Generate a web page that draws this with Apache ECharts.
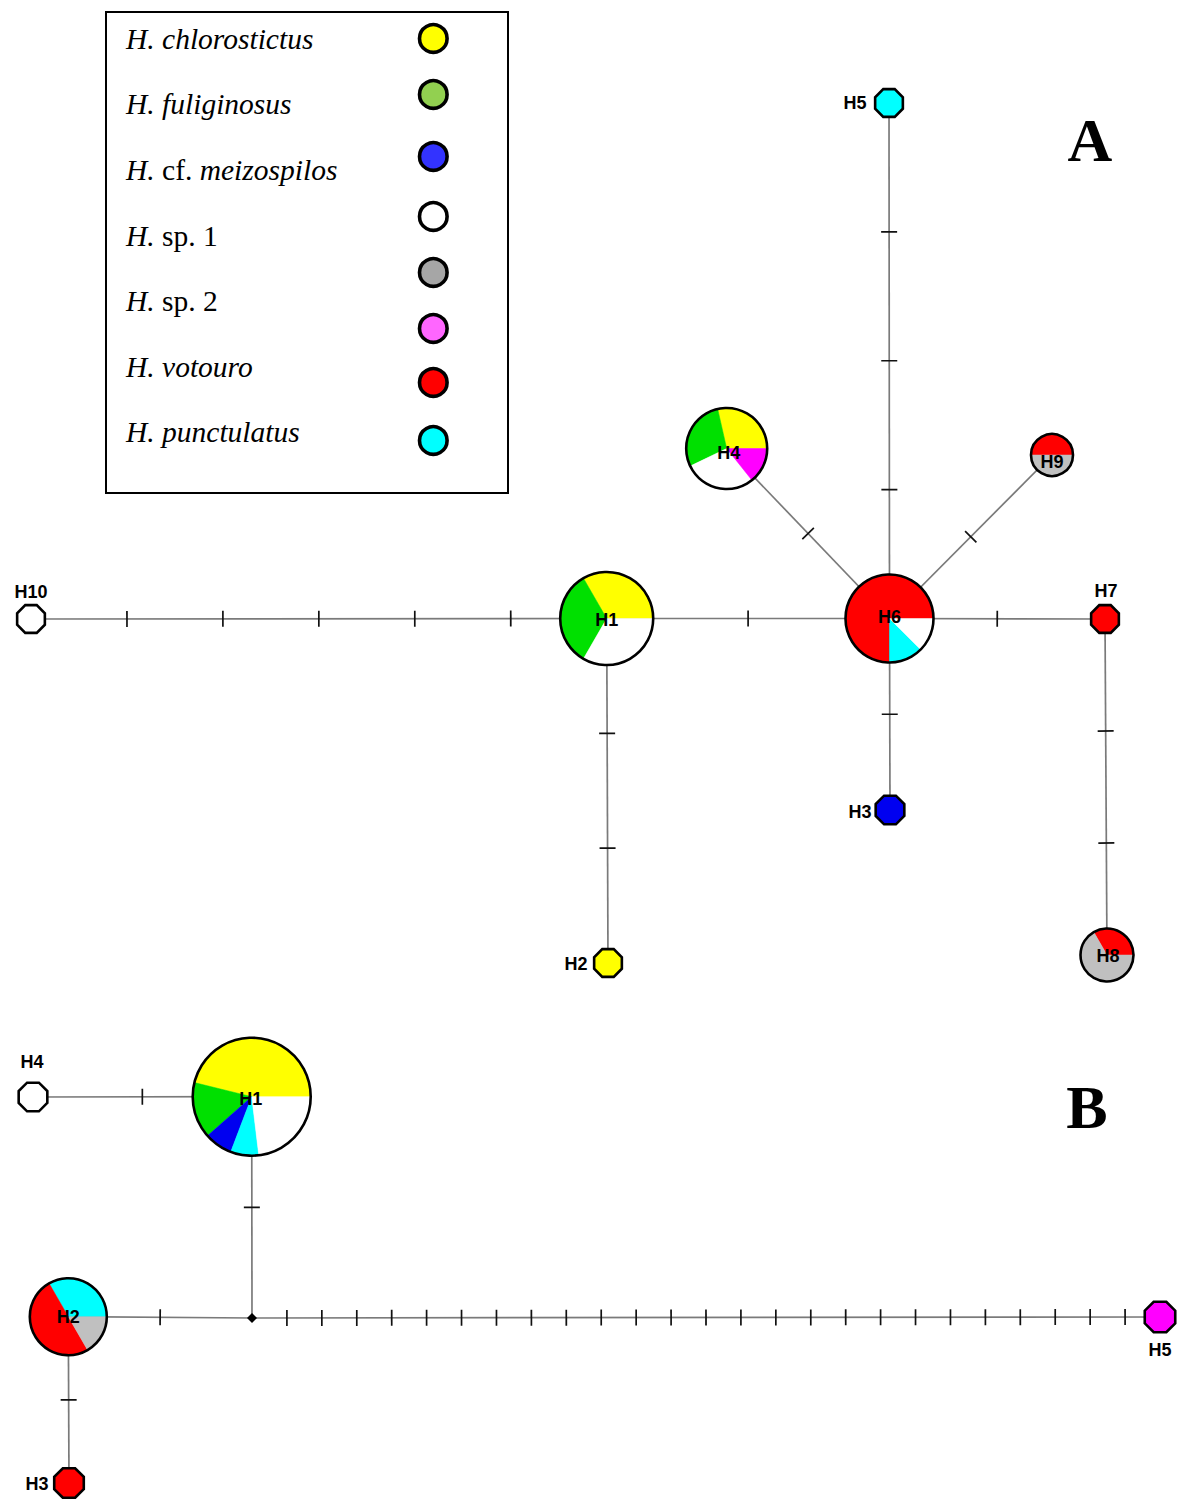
<!DOCTYPE html>
<html><head><meta charset="utf-8">
<script src="https://cdn.jsdelivr.net/npm/echarts@6/dist/echarts.min.js"></script>
<style>html,body{margin:0;padding:0;background:#fff}#c{width:1183px;height:1499px}</style>
</head><body><div id="c"></div>
<script>
// ---------- Legend ----------
const legendLabels = [
  '{i|H. chlorostictus}',
  '{i|H. fuliginosus}',
  '{i|H. }{n|cf. }{i|meizospilos}',
  '{i|H. }{n|sp. 1}',
  '{i|H. }{n|sp. 2}',
  '{i|H. votouro}',
  '{i|H. punctulatus}'
];
const legendSwatches = ['yellow','green','blue','white','gray','magenta','red','cyan'];

// ---------- Network A ----------
const hapNamesA = ['H1','H2','H3','H4','H5','H6','H7','H8','H9','H10'];
const hapCompA = [
  [['yellow',1],['green',1],['white',1]],
  [['yellow',1]],
  [['blue',1]],
  [['yellow',2],['green',2],['white',2],['magenta',1]],
  [['cyan',1]],
  [['red',6],['cyan',1],['white',1]],
  [['red',1]],
  [['red',1],['gray',2]],
  [['red',1],['gray',1]],
  [['white',1]]
];
const edgesA = [
  ['H10','H1',6], ['H1','H6',2], ['H6','H7',2], ['H6','H5',4], ['H6','H3',2],
  ['H1','H2',3], ['H7','H8',3], ['H6','H4',2], ['H6','H9',2]
];

// ---------- Network B ----------
const hapNamesB = ['H1','H2','H3','H4','H5','mv'];
const hapCompB = [
  [['yellow',6],['green',2],['blue',1],['cyan',1],['white',3]],
  [['cyan',2],['red',3],['gray',1]],
  [['red',1]],
  [['white',1]],
  [['magenta',1]],
  []
];
const edgesB = [
  ['H4','H1',2], ['H1','mv',2], ['H2','mv',2], ['H2','H3',2], ['mv','H5',26]
];

// ---------- Layout (positions / sizes / styles) ----------
const layoutAX = [606.7, 608, 890, 726.7, 889, 889.5, 1105, 1107, 1052, 31];
const layoutAY = [618.5, 963, 810, 448.5, 103, 618.5, 619, 955, 455, 619];
const shapeA = ['pie','oct','oct','pie','oct','pie','oct','pie','pie','oct'];
const radiusA = [46.5, 15, 15.5, 40.5, 15, 44, 15, 26.5, 21, 15];
const labelOffA = [[0,1],[-32,1],[-30,2],[2,4],[-34,0],[0,-2],[1,-28],[1,1],[0,7],[0,-27]];

const layoutBX = [251.7, 68.3, 69, 33, 1160, 252];
const layoutBY = [1096.7, 1316.7, 1483, 1097, 1317, 1318];
const shapeB = ['pie','pie','oct','oct','oct','mv'];
const radiusB = [59, 38.5, 16, 15.5, 16.5, 5];
const labelOffB = [[-1,2],[0,0],[-32,1],[-1,-35],[0,33],[0,0]];

const netColors = {yellow:'#ffff00', green:'#00e000', blue:'#0000f0', white:'#ffffff',
  gray:'#c0c0c0', magenta:'#ff00ff', red:'#ff0000', cyan:'#00ffff'};
const legendColors = {yellow:'#ffff00', green:'#92d050', blue:'#3333ff', white:'#ffffff',
  gray:'#a6a6a6', magenta:'#ff66ff', red:'#ff0000', cyan:'#00ffff'};

const chart = echarts.init(document.getElementById('c'), null, {renderer:'svg'});

function edgeSeries(edges, names, xs, ys) {
  const data = edges.map(e => {
    const a = names.indexOf(e[0]), b = names.indexOf(e[1]);
    return [xs[a], ys[a], xs[b], ys[b], e[2]];
  });
  return {
    type:'custom', coordinateSystem:'cartesian2d', z:1, silent:true,
    data, encode:{x:[0,2], y:[1,3]},
    renderItem: (params, api) => {
      const p1 = api.coord([api.value(0), api.value(1)]);
      const p2 = api.coord([api.value(2), api.value(3)]);
      const steps = api.value(4);
      const dx = p2[0]-p1[0], dy = p2[1]-p1[1];
      const len = Math.sqrt(dx*dx+dy*dy);
      const nx = -dy/len, ny = dx/len;
      const children = [{type:'line', shape:{x1:p1[0],y1:p1[1],x2:p2[0],y2:p2[1]},
        style:{stroke:'#7a7a7a', lineWidth:1.7}}];
      const h = 8;
      for (let k=1;k<steps;k++){
        const t = k/steps;
        const cx = p1[0]+dx*t, cy = p1[1]+dy*t;
        children.push({type:'line', shape:{x1:cx-nx*h,y1:cy-ny*h,x2:cx+nx*h,y2:cy+ny*h},
          style:{stroke:'#111', lineWidth:1.7}});
      }
      return {type:'group', children};
    }
  };
}

function nodeSeries(names, comps, xs, ys, shapes, radii, offs) {
  return {
    type:'custom', coordinateSystem:'cartesian2d', z:3, silent:true,
    data: names.map((n,i)=>[xs[i], ys[i], i]),
    renderItem: (params, api) => {
      const i = api.value(2);
      const c = api.coord([api.value(0), api.value(1)]);
      const r = api.size([radii[i], 0])[0];
      const children = [];
      if (shapes[i] === 'mv') {
        children.push({type:'polygon', shape:{points:[[c[0],c[1]-r],[c[0]+r,c[1]],[c[0],c[1]+r],[c[0]-r,c[1]]]},
          style:{fill:'#000'}});
        return {type:'group', children};
      }
      if (shapes[i] === 'oct') {
        const pts = [];
        for (let k=0;k<8;k++){ const a = Math.PI/8 + k*Math.PI/4; pts.push([c[0]+r*Math.cos(a), c[1]+r*Math.sin(a)]); }
        children.push({type:'polygon', shape:{points:pts},
          style:{fill:netColors[comps[i][0][0]], stroke:'#000', lineWidth:2.6}});
      } else {
        const total = comps[i].reduce((s,p)=>s+p[1],0);
        let acc = 0;
        comps[i].forEach(p => {
          const a0 = acc/total*Math.PI*2; acc += p[1];
          const a1 = acc/total*Math.PI*2;
          children.push({type:'sector', shape:{cx:c[0], cy:c[1], r:r, r0:0, startAngle:-a0, endAngle:-a1, clockwise:false},
            style:{fill:netColors[p[0]], stroke:netColors[p[0]], lineWidth:0.5}});
        });
        children.push({type:'circle', shape:{cx:c[0], cy:c[1], r:r}, style:{fill:null, stroke:'#000', lineWidth:2.6}});
      }
      children.push({type:'text', style:{text:names[i], x:c[0]+offs[i][0], y:c[1]+offs[i][1],
        fill:'#000', font:'bold 18px "Liberation Sans", Arial, sans-serif', textAlign:'center', textVerticalAlign:'middle'}});
      return {type:'group', children};
    }
  };
}

// legend graphic
const legendGraphic = [
  {type:'rect', shape:{x:106, y:12, width:402, height:481}, style:{fill:'#fff', stroke:'#000', lineWidth:2}, z:10}
];
const legendRowBase = 48.3;
const serif = '"Liberation Serif","Times New Roman",serif';
legendLabels.forEach((t,k)=>{
  legendGraphic.push({type:'text', left:126, top:legendRowBase + k*65.6 - 24.5, z:11,
    style:{text:t, rich:{
      i:{fontFamily:serif, fontStyle:'italic', fontSize:29.5, fill:'#000'},
      n:{fontFamily:serif, fontSize:29.5, fill:'#000'}
    }}});
});
const swatchY = [38.5, 94.5, 156.5, 216.5, 272.5, 328.5, 382.5, 440.5];
legendSwatches.forEach((s,k)=>{
  legendGraphic.push({type:'circle', z:11, shape:{cx:433.3, cy:swatchY[k], r:13.8},
    style:{fill:legendColors[s], stroke:'#000', lineWidth:3.6}});
});
legendGraphic.push({type:'text', z:11, style:{text:'A', x:1090, y:140, textAlign:'center', textVerticalAlign:'middle',
  font:'bold 62px ' + serif, fill:'#000'}});
legendGraphic.push({type:'text', z:11, style:{text:'B', x:1087, y:1107, textAlign:'center', textVerticalAlign:'middle',
  font:'bold 62px ' + serif, fill:'#000'}});

chart.setOption({
  animation:false,
  backgroundColor:'#fff',
  grid:{left:0, right:0, top:0, bottom:0},
  xAxis:{type:'value', min:0, max:1183, show:false},
  yAxis:{type:'value', min:0, max:1499, inverse:true, show:false},
  graphic: legendGraphic,
  series:[
    edgeSeries(edgesA, hapNamesA, layoutAX, layoutAY),
    edgeSeries(edgesB, hapNamesB, layoutBX, layoutBY),
    nodeSeries(hapNamesA, hapCompA, layoutAX, layoutAY, shapeA, radiusA, labelOffA),
    nodeSeries(hapNamesB, hapCompB, layoutBX, layoutBY, shapeB, radiusB, labelOffB)
  ]
});
</script></body></html>
